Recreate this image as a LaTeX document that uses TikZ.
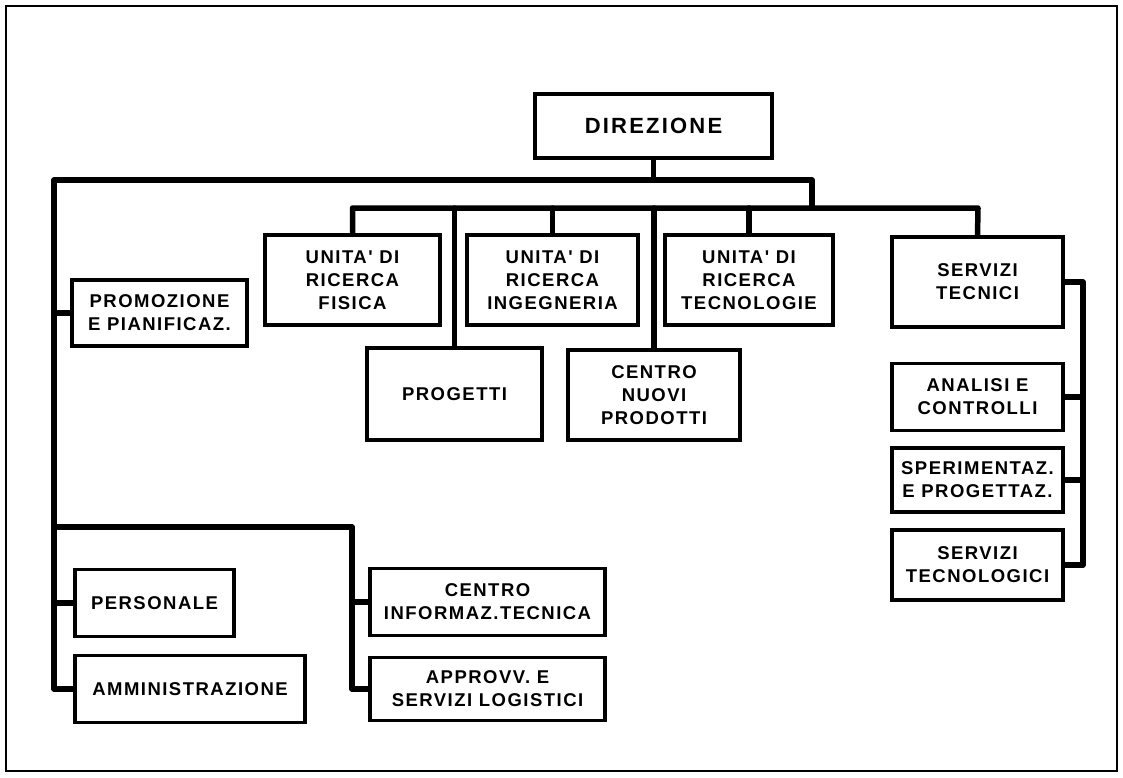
\documentclass[tikz,border=0pt]{standalone}
\usepackage{fontspec}
\newfontfamily\orgfont[LetterSpace=8]{Liberation Sans}
\newfontfamily\dirfont[LetterSpace=10]{Liberation Sans}
\begin{document}
\begin{tikzpicture}[x=1pt,y=-1pt,
  box/.style={draw=black, line width=3.5pt, fill=white, inner sep=0pt, align=center,
     font=\orgfont\bfseries\fontsize{18.5}{23}\selectfont},
  bus/.style={line width=5.5pt, line join=round, line cap=round}]
\useasboundingbox (0,0) rectangle (1123,777);
\draw[line width=2.5pt] (6,6) rectangle (1117,771);

% nodes (centre, width, height)
\node[box, minimum width=237, minimum height=64, font=\dirfont\bfseries\fontsize{22}{26}\selectfont] (dir) at (653.5,126) {DIREZIONE};

\node[box, minimum width=175, minimum height=90] (fis) at (352.5,280) {UNITA' DI\\RICERCA\\FISICA};
\node[box, minimum width=171, minimum height=90] (ing) at (552.5,280) {UNITA' DI\\RICERCA\\INGEGNERIA};
\node[box, minimum width=168, minimum height=90] (tec) at (749,280) {UNITA' DI\\RICERCA\\TECNOLOGIE};
\node[box, minimum width=171, minimum height=90] (st) at (977.5,282) {SERVIZI\\TECNICI};

\node[box, minimum width=175, minimum height=92] (prog) at (454.5,394) {PROGETTI};
\node[box, minimum width=172, minimum height=90] (cnp) at (654,395) {CENTRO\\NUOVI\\PRODOTTI};

\node[box, minimum width=175, minimum height=66] (prom) at (159.5,313) {PROMOZIONE\\E PIANIFICAZ.};

\node[box, minimum width=171, minimum height=67] (ac) at (977.5,397) {ANALISI E\\CONTROLLI};
\node[box, minimum width=171, minimum height=64] (sp) at (977.5,480) {SPERIMENTAZ.\\E PROGETTAZ.};
\node[box, minimum width=171, minimum height=70] (stg) at (977.5,565) {SERVIZI\\TECNOLOGICI};

\node[box, minimum width=159, minimum height=67] (pers) at (154.5,603) {PERSONALE};
\node[box, minimum width=230, minimum height=67] (amm) at (190,689) {AMMINISTRAZIONE};
\node[box, minimum width=235, minimum height=67] (cit) at (487.5,602) {CENTRO\\INFORMAZ.TECNICA};
\node[box, minimum width=235, minimum height=63] (app) at (487.5,689) {APPROVV. E\\SERVIZI LOGISTICI};

% bus coordinates
\coordinate (b1L) at (54,180);
\coordinate (b1R) at (812,180);
\coordinate (b2R) at (978,208);
\coordinate (lbR) at (352,527);
\coordinate (rb) at (1083,282);

% connectors
\draw[bus] (dir.south) -- (dir.south |- b1L);
\draw[bus] (amm.west) -| (b1L) -- (b1R) -- (b1R |- b2R);
\draw[bus] (fis.north) |- (b2R) -- (st.north);
\draw[bus] (ing.north) -- (ing.north |- b2R);
\draw[bus] (tec.north) -- (tec.north |- b2R);
\draw[bus] (prog.north) -- (prog.north |- b2R);
\draw[bus] (cnp.north) -- (cnp.north |- b2R);
\draw[bus] (prom.west) -- (prom.west -| b1L);
\draw[bus] (pers.west) -- (pers.west -| b1L);
\draw[bus] (b1L |- lbR) -- (lbR) |- (app.west);
\draw[bus] (cit.west) -- (cit.west -| lbR);
\draw[bus] (st.east) -| (rb) |- (stg.east);
\draw[bus] (ac.east) -- (ac.east -| rb);
\draw[bus] (sp.east) -- (sp.east -| rb);
\end{tikzpicture}
\end{document}
